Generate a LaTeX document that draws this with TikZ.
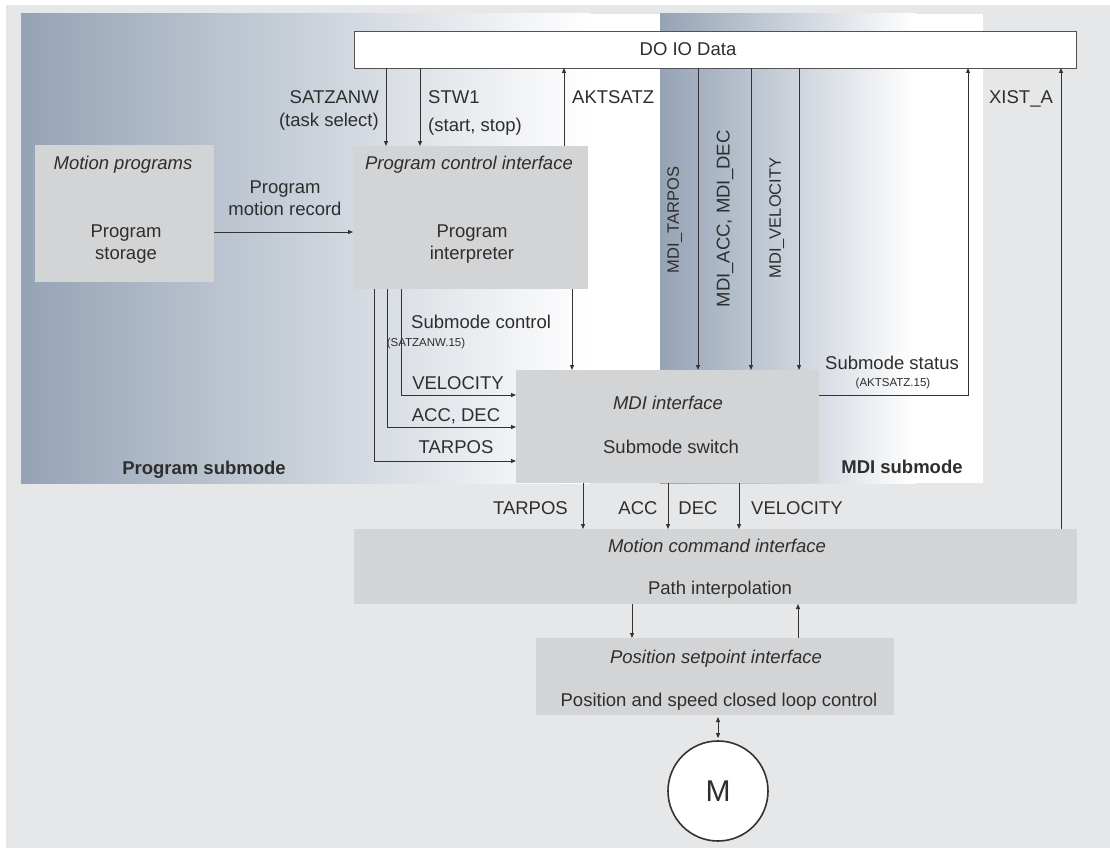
\documentclass[tikz,border=0pt]{standalone}
\usepackage{fontspec}
\setmainfont{Liberation Sans}
\usetikzlibrary{arrows.meta}
\definecolor{bg}{HTML}{E6E7E9}
\definecolor{panel}{HTML}{95A3B5}
\definecolor{boxc}{HTML}{D3D4D6}
\definecolor{ln}{HTML}{333333}
\definecolor{tx}{HTML}{2E2E2E}
\tikzset{
 box/.style={fill=boxc, draw=none, inner sep=0pt, outer sep=0pt},
 lbl/.style={text=tx, inner sep=0pt, text height=13.2pt, text depth=0pt, font=\fontsize{18.5}{22}\selectfont},
 ilbl/.style={lbl, font=\fontsize{18.5}{22}\selectfont\itshape},
 blbl/.style={lbl, font=\fontsize{18.5}{22}\selectfont\bfseries},
 slbl/.style={text=tx, inner sep=0pt, text height=8.2pt, text depth=0pt, font=\fontsize{11.5}{13}\selectfont},
 rlbl/.style={lbl, rotate=90, font=\fontsize{16.5}{20}\selectfont, text height=11.8pt},
 conn/.style={draw=ln, line width=1pt},
 arr/.style={conn, -{Triangle[length=5pt,width=4pt]}},
}
\begin{document}
\begin{tikzpicture}[x=1pt,y=-1pt]
\useasboundingbox (0,0) rectangle (1110,848);
\fill[white] (0,0) rectangle (1110,848);
\fill[bg] (6,5) rectangle (1110,848);
% submode panels
\shade[left color=panel, right color=white] (21,14) rectangle (590,483);
\fill[white] (590,14) rectangle (660,483);
\shade[left color=panel, right color=white] (660,14) rectangle (915,483);
\fill[white] (915,14) rectangle (983,483);

% boxes
\node[box, fill=white, draw=ln!85, line width=0.8pt, minimum width=722, minimum height=37] (do) at (715,49.5) {};
\node[lbl] (dol) at (688,49) {DO IO Data};

\node[box, minimum width=179, minimum height=137] (mp) at (124.5,213.5) {};
\node[ilbl] (mpt) at (123,163) {Motion programs};
\node[lbl] (mps1) at (126,231) {Program};
\node[lbl] (mps2) at (126,253) {storage};

\node[box, minimum width=235, minimum height=143] (pi) at (470.5,217.5) {};
\node[ilbl] (pit) at (469,163) {Program control interface};
\node[lbl] (pis1) at (472,231) {Program};
\node[lbl] (pis2) at (472,253) {interpreter};

\node[box, minimum width=303, minimum height=113] (mdi) at (667.5,426.5) {};
\node[ilbl] (mdit) at (668,403) {MDI interface};
\node[lbl] (mdis) at (671,447) {Submode switch};

\node[box, minimum width=723, minimum height=75] (mc) at (715.5,566.5) {};
\node[ilbl] (mct) at (717,546) {Motion command interface};
\node[lbl] (mcs) at (720,588) {Path interpolation};

\node[box, minimum width=358, minimum height=77] (ps) at (715,676.5) {};
\node[ilbl] (pst) at (716,657) {Position setpoint interface};
\node[lbl] (pss) at (719,700) {Position and speed closed loop control};

\node[circle, draw=ln, line width=1.6pt, fill=white, minimum size=100, inner sep=0pt, text=tx, font=\fontsize{30}{36}\selectfont] (mot) at (718,791) {M};

% x / y positions of connectors
\coordinate (xSatz) at (386,0);
\coordinate (xStw) at (420,0);
\coordinate (xAkt) at (564,0);
\coordinate (xSub) at (572,0);
\coordinate (xM1) at (698,0);
\coordinate (xM2) at (751,0);
\coordinate (xM3) at (799,0);
\coordinate (xXist) at (1061,0);
\coordinate (xT) at (583,0);
\coordinate (xA) at (668,0);
\coordinate (xV) at (739,0);
\coordinate (xDn) at (632,0);
\coordinate (xUp) at (798,0);
\coordinate (yRec) at (0,232);
\coordinate (p1) at (401,395);
\coordinate (p2) at (387.5,427);
\coordinate (p3) at (374,461);
\coordinate (st) at (968,395);

% connectors
\draw[arr] (do.south -| xSatz) -- (pi.north -| xSatz);
\draw[arr] (do.south -| xStw) -- (pi.north -| xStw);
\draw[arr] (pi.north -| xAkt) -- (do.south -| xAkt);
\draw[arr] (mp.east |- yRec) -- (pi.west |- yRec);
\draw[arr] (pi.south -| xSub) -- (mdi.north -| xSub);
\draw[arr] (pi.south -| p1) |- (mdi.west |- p1);
\draw[arr] (pi.south -| p2) |- (mdi.west |- p2);
\draw[arr] (pi.south -| p3) |- (mdi.west |- p3);
\draw[arr] (do.south -| xM1) -- (mdi.north -| xM1);
\draw[arr] (do.south -| xM2) -- (mdi.north -| xM2);
\draw[arr] (do.south -| xM3) -- (mdi.north -| xM3);
\draw[arr] (mdi.east |- st) -| (do.south -| st);
\draw[arr] (mc.north -| xXist) -- (do.south -| xXist);
\draw[arr] (mdi.south -| xT) -- (mc.north -| xT);
\draw[arr] (mdi.south -| xA) -- (mc.north -| xA);
\draw[arr] (mdi.south -| xV) -- (mc.north -| xV);
\draw[arr] (mc.south -| xDn) -- (ps.north -| xDn);
\draw[arr] (ps.north -| xUp) -- (mc.south -| xUp);
\draw[conn, {Triangle[length=5pt,width=4pt]}-{Triangle[length=5pt,width=4pt]}, shorten <=2pt, shorten >=2pt] (ps.south -| mot.north) -- (mot.north);

% connector labels
\node[lbl, anchor=east] (lsatz1) at (379,97) {SATZANW};
\node[lbl, anchor=east] (lsatz2) at (379,120) {(task select)};
\node[lbl, anchor=west] (lstw1) at (428,97) {STW1};
\node[lbl, anchor=west] (lstw2) at (428,125) {(start, stop)};
\node[lbl, anchor=west] (lakt) at (572,97) {AKTSATZ};
\node[lbl] (lxist) at (1021,97) {XIST\_A};
\node[lbl] (lrec1) at (285,187) {Program};
\node[lbl] (lrec2) at (285,209) {motion record};
\node[rlbl] (lm1) at (673,220) {MDI\_TARPOS};
\node[rlbl, font=\fontsize{18.5}{22}\selectfont, text height=13.2pt] (lm2) at (723,219) {MDI\_ACC, MDI\_DEC};
\node[rlbl] (lm3) at (775,218) {MDI\_VELOCITY};
\node[lbl, anchor=west] (lsc1) at (411,322) {Submode control};
\node[slbl] (lsc2) at (426,342) {(SATZANW.15)};
\node[lbl] (lvel) at (458,383) {VELOCITY};
\node[lbl] (lacc) at (456,415) {ACC, DEC};
\node[lbl] (ltar) at (456,447) {TARPOS};
\node[blbl] (lprog) at (204,468) {Program submode};
\node[blbl] (lmdi) at (902,467) {MDI submode};
\node[lbl] (lss1) at (892,363) {Submode status};
\node[slbl] (lss2) at (893,382) {(AKTSATZ.15)};
\node[lbl, anchor=east] (ltar2) at (568,508) {TARPOS};
\node[lbl] (lacc2) at (638,508) {ACC};
\node[lbl] (ldec2) at (698,508) {DEC};
\node[lbl, anchor=west] (lvel2) at (751,508) {VELOCITY};
\end{tikzpicture}
\end{document}
